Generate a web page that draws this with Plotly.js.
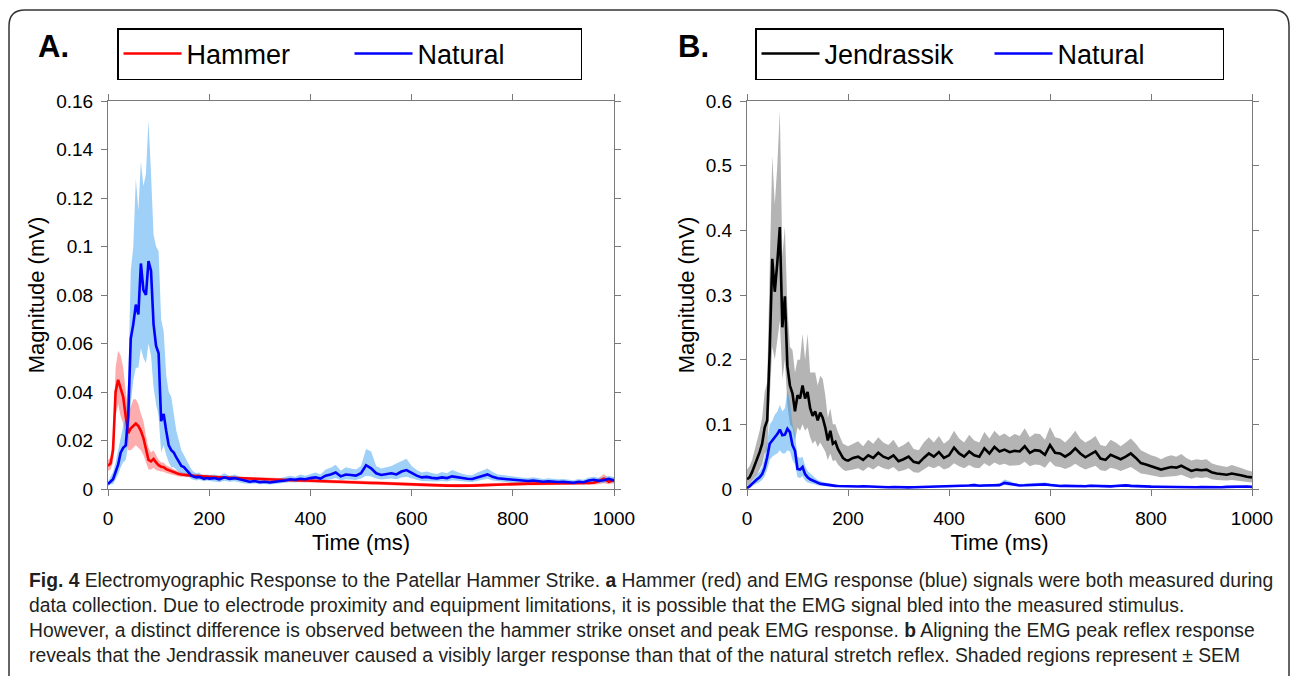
<!DOCTYPE html>
<html>
<head>
<meta charset="utf-8">
<script src="https://cdn.plot.ly/plotly-3.0.1.min.js"></script>
<style>
  html, body { margin: 0; padding: 0; background: #fff; }
  #chart { width: 1295px; height: 676px; }
</style>
</head>
<body>
<div id="chart"></div>
<script>
// ---------- time axis (ms) ----------
const timeEarly = [0,5,10,15,20,25,30,35,40,45,50,55,60,65,70,75,80,85,90,95,100,105,110,115,120,125,130,135,140,145,150,155,160,165,170,175,180,185,190,195,200];
const timeLate = [210,220,230,240,250,260,270,280,290,300,310,320,330,340,350,360,370,380,390,400,410,420,430,440,450,460,470,480,490,500,510,520,530,540,550,560,570,580,590,600,610,620,630,640,650,660,670,680,690,700,710,720,730,740,750,760,770,780,790,800,810,820,830,840,850,860,870,880,890,900,910,920,930,940,950,960,970,980,990,1000];

// ---------- Panel A: Hammer ----------
const hammerMeanEarly = [0.0096,0.0105,0.016,0.04,0.045,0.041,0.038,0.03,0.023,0.025,0.026,0.027,0.026,0.024,0.021,0.016,0.012,0.0114,0.0124,0.011,0.0098,0.0092,0.009,0.0082,0.0078,0.0072,0.0068,0.0065,0.0062,0.006,0.0058,0.0057,0.0056,0.0055,0.0054,0.0053,0.0052,0.0051,0.0051,0.005,0.005];
const hammerMeanLate = [0.0049,0.0048,0.0047,0.0046,0.0045,0.0044,0.0043,0.0042,0.0041,0.004,0.004,0.0039,0.0039,0.0038,0.0038,0.0037,0.0036,0.0035,0.0035,0.0034,0.0033,0.0033,0.0032,0.0031,0.003,0.003,0.0029,0.0028,0.0028,0.0027,0.0026,0.0025,0.0025,0.0024,0.0023,0.0022,0.0021,0.002,0.002,0.0019,0.0018,0.0017,0.0016,0.0016,0.0015,0.0015,0.0014,0.0014,0.0013,0.0013,0.0014,0.0014,0.0015,0.0016,0.0017,0.0018,0.0019,0.002,0.002,0.002,0.0021,0.0021,0.0022,0.0022,0.0022,0.0023,0.0023,0.0023,0.0023,0.0023,0.0024,0.0024,0.0024,0.0025,0.0025,0.0026,0.0032,0.0042,0.003,0.0036];
const hammerUpperEarly = [0.012,0.013,0.022,0.05,0.057,0.055,0.05,0.04,0.031,0.034,0.037,0.037,0.035,0.031,0.028,0.022,0.017,0.015,0.016,0.014,0.012,0.011,0.0108,0.0098,0.0092,0.0085,0.008,0.0076,0.0072,0.0069,0.0067,0.0065,0.0064,0.0063,0.0062,0.006,0.0059,0.0058,0.0058,0.0057,0.0057];
const hammerUpperLate = [0.0056,0.0055,0.0054,0.0053,0.0052,0.0051,0.005,0.0049,0.0048,0.0047,0.0047,0.0046,0.0046,0.0045,0.0045,0.0044,0.0043,0.0042,0.0042,0.0041,0.004,0.004,0.0039,0.0038,0.0037,0.0037,0.0036,0.0035,0.0035,0.0034,0.0033,0.0032,0.0032,0.0031,0.003,0.0029,0.0028,0.0027,0.0027,0.0026,0.0025,0.0024,0.0023,0.0023,0.0022,0.0022,0.0021,0.0021,0.002,0.002,0.0021,0.0021,0.0022,0.0023,0.0024,0.0025,0.0026,0.0027,0.0027,0.0027,0.0028,0.0028,0.0029,0.0029,0.0029,0.003,0.003,0.003,0.003,0.003,0.0031,0.0031,0.0031,0.0032,0.0032,0.0034,0.0045,0.0062,0.0042,0.0048];
const hammerLowerEarly = [0.0075,0.008,0.011,0.03,0.035,0.03,0.027,0.021,0.016,0.016,0.017,0.018,0.017,0.016,0.014,0.011,0.008,0.008,0.0088,0.0078,0.0075,0.0072,0.0071,0.0066,0.0063,0.006,0.0056,0.0054,0.0052,0.0051,0.0049,0.0049,0.0048,0.0047,0.0046,0.0046,0.0045,0.0044,0.0044,0.0043,0.0043];
const hammerLowerLate = [0.0042,0.0041,0.004,0.0039,0.0038,0.0037,0.0036,0.0035,0.0034,0.0033,0.0033,0.0032,0.0032,0.0031,0.0031,0.003,0.0029,0.0028,0.0028,0.0027,0.0026,0.0026,0.0025,0.0024,0.0023,0.0023,0.0022,0.0021,0.0021,0.002,0.0019,0.0018,0.0018,0.0017,0.0016,0.0015,0.0014,0.0013,0.0013,0.0012,0.0011,0.001,0.0009,0.0009,0.0008,0.0008,0.0007,0.0007,0.0006,0.0006,0.0007,0.0007,0.0008,0.0009,0.001,0.0011,0.0012,0.0013,0.0013,0.0013,0.0014,0.0014,0.0015,0.0015,0.0015,0.0016,0.0016,0.0016,0.0016,0.0016,0.0017,0.0017,0.0017,0.0018,0.0018,0.0018,0.002,0.0024,0.002,0.0024];

// ---------- Panel A: Natural ----------
const natAMeanEarly = [0.002,0.003,0.004,0.007,0.01,0.015,0.017,0.018,0.03,0.062,0.068,0.076,0.072,0.093,0.082,0.08,0.094,0.09,0.068,0.059,0.056,0.028,0.031,0.024,0.018,0.016,0.015,0.013,0.011,0.0095,0.009,0.0078,0.007,0.0055,0.005,0.0048,0.005,0.0045,0.0042,0.0045,0.0043];
const natAMeanLate = [0.0045,0.004,0.0048,0.0042,0.0045,0.004,0.0032,0.003,0.0033,0.0028,0.003,0.0027,0.003,0.0032,0.0035,0.004,0.0038,0.0042,0.004,0.0045,0.0048,0.0043,0.0055,0.006,0.0068,0.0052,0.006,0.0058,0.0055,0.0065,0.0098,0.0085,0.0065,0.0058,0.006,0.0065,0.006,0.0072,0.0078,0.0066,0.0055,0.0048,0.005,0.0046,0.0044,0.0048,0.0045,0.0052,0.0048,0.0045,0.0042,0.0041,0.0048,0.0055,0.006,0.005,0.0044,0.0042,0.004,0.0037,0.0036,0.0034,0.0033,0.0035,0.0033,0.003,0.0032,0.003,0.0029,0.003,0.0027,0.0026,0.003,0.0028,0.0035,0.0038,0.0034,0.0036,0.0042,0.0035];
const natAUpperEarly = [0.003,0.005,0.007,0.011,0.016,0.022,0.026,0.03,0.045,0.09,0.1,0.128,0.115,0.135,0.125,0.13,0.152,0.13,0.105,0.1,0.098,0.07,0.065,0.047,0.04,0.038,0.03,0.024,0.02,0.016,0.014,0.012,0.01,0.008,0.007,0.0065,0.0068,0.006,0.0058,0.006,0.0058];
const natAUpperLate = [0.006,0.0055,0.0065,0.0055,0.006,0.0052,0.0042,0.004,0.0043,0.0036,0.004,0.0035,0.004,0.0043,0.0048,0.0055,0.005,0.006,0.0055,0.0062,0.0068,0.006,0.008,0.0088,0.01,0.0075,0.009,0.0085,0.008,0.0095,0.0165,0.0155,0.0095,0.0085,0.009,0.0095,0.0105,0.0115,0.0125,0.0095,0.0078,0.0068,0.0072,0.0066,0.0062,0.007,0.0065,0.0078,0.007,0.0063,0.0058,0.0057,0.0068,0.0078,0.0085,0.007,0.006,0.0058,0.0055,0.005,0.0049,0.0046,0.0045,0.0048,0.0045,0.0041,0.0044,0.0041,0.004,0.0041,0.0037,0.0036,0.0041,0.0038,0.0047,0.005,0.0046,0.0048,0.0055,0.0048];
const natALowerEarly = [0.001,0.002,0.002,0.004,0.006,0.009,0.011,0.012,0.018,0.035,0.045,0.05,0.05,0.058,0.054,0.052,0.06,0.055,0.042,0.035,0.03,0.015,0.018,0.014,0.011,0.009,0.009,0.008,0.007,0.006,0.006,0.005,0.005,0.004,0.0038,0.0035,0.0038,0.0035,0.0032,0.0035,0.0033];
const natALowerLate = [0.0032,0.0028,0.0034,0.003,0.0032,0.0028,0.0023,0.0021,0.0023,0.002,0.0021,0.0019,0.0021,0.0023,0.0025,0.0028,0.0027,0.003,0.0028,0.0031,0.0033,0.003,0.0037,0.004,0.0045,0.0036,0.004,0.0039,0.0037,0.0043,0.0055,0.0052,0.0043,0.0039,0.004,0.0043,0.004,0.0047,0.005,0.0044,0.0038,0.0033,0.0035,0.0032,0.0031,0.0033,0.0031,0.0036,0.0033,0.0031,0.003,0.0029,0.0033,0.0038,0.0042,0.0035,0.0031,0.003,0.0028,0.0026,0.0026,0.0024,0.0024,0.0025,0.0024,0.0022,0.0023,0.0022,0.0021,0.0022,0.002,0.0019,0.0022,0.002,0.0025,0.0027,0.0024,0.0026,0.003,0.0025];

// ---------- Panel B: Jendrassik ----------
const jendMeanEarly = [0.015,0.018,0.026,0.036,0.044,0.057,0.07,0.095,0.106,0.214,0.356,0.305,0.35,0.405,0.25,0.298,0.19,0.16,0.148,0.12,0.145,0.14,0.16,0.14,0.15,0.125,0.113,0.12,0.106,0.118,0.11,0.095,0.075,0.09,0.07,0.073,0.062,0.055,0.048,0.045,0.044];
const jendMeanLate = [0.048,0.05,0.045,0.052,0.048,0.056,0.05,0.047,0.052,0.043,0.046,0.05,0.042,0.04,0.048,0.055,0.05,0.057,0.048,0.052,0.064,0.055,0.05,0.058,0.052,0.05,0.063,0.055,0.065,0.058,0.061,0.057,0.059,0.058,0.066,0.056,0.06,0.059,0.053,0.068,0.056,0.055,0.05,0.055,0.063,0.055,0.049,0.053,0.058,0.047,0.045,0.053,0.05,0.046,0.05,0.055,0.048,0.04,0.038,0.035,0.033,0.03,0.032,0.034,0.033,0.036,0.032,0.028,0.03,0.029,0.03,0.026,0.024,0.023,0.022,0.024,0.023,0.021,0.019,0.018];
const jendUpperEarly = [0.03,0.035,0.045,0.06,0.075,0.09,0.11,0.15,0.165,0.33,0.515,0.44,0.5,0.585,0.36,0.405,0.28,0.22,0.215,0.18,0.2,0.2,0.24,0.2,0.24,0.18,0.18,0.18,0.16,0.175,0.17,0.145,0.11,0.125,0.1,0.1,0.088,0.078,0.07,0.068,0.066];
const jendUpperLate = [0.07,0.074,0.066,0.076,0.07,0.08,0.072,0.068,0.076,0.064,0.068,0.074,0.062,0.06,0.072,0.08,0.072,0.082,0.07,0.076,0.09,0.078,0.072,0.084,0.075,0.072,0.088,0.078,0.09,0.082,0.086,0.08,0.085,0.082,0.094,0.08,0.086,0.085,0.076,0.096,0.08,0.078,0.072,0.08,0.09,0.078,0.072,0.076,0.082,0.068,0.066,0.076,0.072,0.066,0.072,0.078,0.07,0.06,0.056,0.052,0.05,0.046,0.05,0.052,0.05,0.054,0.048,0.044,0.046,0.045,0.046,0.04,0.037,0.036,0.034,0.037,0.035,0.032,0.029,0.027];
const jendLowerEarly = [0.005,0.007,0.012,0.018,0.022,0.03,0.038,0.055,0.06,0.13,0.22,0.2,0.23,0.26,0.17,0.2,0.13,0.1,0.095,0.075,0.095,0.09,0.1,0.09,0.095,0.08,0.07,0.075,0.065,0.072,0.065,0.058,0.045,0.055,0.043,0.045,0.038,0.034,0.03,0.028,0.028];
const jendLowerLate = [0.03,0.032,0.028,0.034,0.03,0.036,0.032,0.03,0.034,0.027,0.029,0.032,0.026,0.025,0.03,0.035,0.032,0.036,0.03,0.033,0.04,0.035,0.032,0.037,0.033,0.032,0.04,0.035,0.041,0.037,0.039,0.036,0.037,0.037,0.042,0.035,0.038,0.037,0.033,0.043,0.035,0.034,0.031,0.034,0.039,0.034,0.03,0.033,0.036,0.029,0.028,0.033,0.031,0.028,0.031,0.034,0.029,0.024,0.023,0.021,0.02,0.018,0.019,0.02,0.02,0.022,0.019,0.016,0.018,0.017,0.018,0.015,0.014,0.013,0.013,0.014,0.013,0.012,0.011,0.01];

// ---------- Panel B: Natural ----------
const natBMeanEarly = [0.0015,0.004,0.008,0.012,0.015,0.018,0.023,0.033,0.049,0.07,0.075,0.08,0.085,0.092,0.083,0.084,0.093,0.088,0.068,0.059,0.031,0.03,0.034,0.023,0.018,0.015,0.013,0.011,0.009,0.008,0.0075,0.0068,0.006,0.0055,0.005,0.0048,0.0046,0.0044,0.0042,0.004,0.004];
const natBMeanLate = [0.004,0.0038,0.0042,0.0038,0.004,0.0036,0.003,0.0028,0.003,0.0026,0.0028,0.0025,0.0028,0.003,0.0033,0.0036,0.0035,0.0038,0.0037,0.004,0.0045,0.004,0.005,0.0055,0.006,0.005,0.0055,0.0054,0.0052,0.006,0.0095,0.008,0.006,0.0055,0.0057,0.006,0.0058,0.0068,0.0072,0.0062,0.0052,0.0046,0.0048,0.0044,0.0042,0.0046,0.0043,0.005,0.0046,0.0043,0.004,0.004,0.0046,0.0052,0.0056,0.0048,0.0042,0.004,0.0038,0.0036,0.0035,0.0033,0.0032,0.0034,0.0032,0.003,0.0031,0.0029,0.0028,0.0029,0.0027,0.0026,0.0029,0.0027,0.0033,0.0036,0.0033,0.0034,0.0038,0.0033];
const natBUpperEarly = [0.003,0.007,0.012,0.018,0.022,0.027,0.034,0.05,0.072,0.1,0.105,0.115,0.12,0.13,0.12,0.125,0.152,0.135,0.1,0.085,0.05,0.048,0.05,0.036,0.028,0.024,0.02,0.017,0.014,0.012,0.011,0.01,0.009,0.008,0.0072,0.0068,0.0065,0.0062,0.006,0.0057,0.0057];
const natBUpperLate = [0.0055,0.0052,0.0058,0.0052,0.0055,0.005,0.0042,0.004,0.0042,0.0036,0.0039,0.0035,0.0039,0.0042,0.0046,0.005,0.0049,0.0053,0.0052,0.0056,0.0063,0.0056,0.007,0.0077,0.0085,0.007,0.0078,0.0076,0.0073,0.0085,0.0145,0.0125,0.0085,0.0077,0.008,0.0085,0.0082,0.0095,0.01,0.0087,0.0073,0.0064,0.0067,0.0062,0.0059,0.0064,0.006,0.007,0.0064,0.006,0.0056,0.0056,0.0064,0.0073,0.0078,0.0067,0.0059,0.0056,0.0053,0.005,0.0049,0.0046,0.0045,0.0048,0.0045,0.0042,0.0043,0.0041,0.0039,0.0041,0.0038,0.0036,0.0041,0.0038,0.0046,0.005,0.0046,0.0048,0.0053,0.0046];
const natBLowerEarly = [0.0005,0.002,0.004,0.007,0.009,0.011,0.014,0.02,0.03,0.045,0.05,0.053,0.055,0.06,0.055,0.055,0.06,0.058,0.045,0.038,0.018,0.017,0.02,0.013,0.01,0.009,0.008,0.007,0.0055,0.005,0.0047,0.0043,0.0038,0.0035,0.0032,0.003,0.0029,0.0028,0.0027,0.0025,0.0025];
const natBLowerLate = [0.0028,0.0027,0.003,0.0027,0.0028,0.0025,0.0021,0.002,0.0021,0.0018,0.002,0.0018,0.002,0.0021,0.0023,0.0025,0.0025,0.0027,0.0026,0.0028,0.0032,0.0028,0.0035,0.0038,0.0042,0.0035,0.0039,0.0038,0.0036,0.0042,0.006,0.0052,0.0042,0.0038,0.004,0.0042,0.0041,0.0047,0.005,0.0043,0.0036,0.0032,0.0034,0.0031,0.003,0.0032,0.003,0.0035,0.0032,0.003,0.0028,0.0028,0.0032,0.0036,0.0039,0.0034,0.003,0.0028,0.0027,0.0025,0.0025,0.0023,0.0022,0.0024,0.0022,0.0021,0.0022,0.002,0.002,0.002,0.0019,0.0018,0.002,0.0019,0.0023,0.0025,0.0023,0.0024,0.0027,0.0023];

const xTicks = [0, 200, 400, 600, 800, 1000];
const yTicksA = [0, 0.02, 0.04, 0.06, 0.08, 0.1, 0.12, 0.14, 0.16];
const yTicksB = [0, 0.1, 0.2, 0.3, 0.4, 0.5, 0.6];

const captionLines = [
  '<b>Fig. 4</b> Electromyographic Response to the Patellar Hammer Strike. <b>a</b> Hammer (red) and EMG response (blue) signals were both measured during',
  'data collection. Due to electrode proximity and equipment limitations, it is possible that the EMG signal bled into the measured stimulus.',
  'However, a distinct difference is observed between the hammer strike onset and peak EMG response. <b>b</b> Aligning the EMG peak reflex response',
  'reveals that the Jendrassik maneuver caused a visibly larger response than that of the natural stretch reflex. Shaded regions represent ± SEM'
];

// ---------- build traces ----------
const time = timeEarly.concat(timeLate);
function band(upper, lower, xa, ya, color) {
  return {
    x: time.concat(time.slice().reverse()),
    y: upper.concat(lower.slice().reverse()),
    xaxis: xa, yaxis: ya, type: 'scatter', mode: 'lines',
    fill: 'toself', fillcolor: color, line: {width: 0, color: 'rgba(0,0,0,0)'},
    hoverinfo: 'skip', showlegend: false
  };
}
function meanLine(y, xa, ya, color, name, legend) {
  return {x: time, y: y, xaxis: xa, yaxis: ya, type: 'scatter', mode: 'lines',
    line: {color: color, width: 2.6}, name: name, legend: legend};
}

const traces = [
  band(hammerUpperEarly.concat(hammerUpperLate), hammerLowerEarly.concat(hammerLowerLate), 'x', 'y', 'rgba(250,60,60,0.42)'),
  band(natAUpperEarly.concat(natAUpperLate), natALowerEarly.concat(natALowerLate), 'x', 'y', 'rgba(40,150,240,0.45)'),
  meanLine(hammerMeanEarly.concat(hammerMeanLate), 'x', 'y', '#ff0000', 'Hammer', 'legend'),
  meanLine(natAMeanEarly.concat(natAMeanLate), 'x', 'y', '#0000ff', 'Natural', 'legend'),
  band(jendUpperEarly.concat(jendUpperLate), jendLowerEarly.concat(jendLowerLate), 'x2', 'y2', 'rgba(140,140,140,0.65)'),
  band(natBUpperEarly.concat(natBUpperLate), natBLowerEarly.concat(natBLowerLate), 'x2', 'y2', 'rgba(40,150,240,0.45)'),
  meanLine(jendMeanEarly.concat(jendMeanLate), 'x2', 'y2', '#000000', 'Jendrassik', 'legend2'),
  meanLine(natBMeanEarly.concat(natBMeanLate), 'x2', 'y2', '#0000ff', 'Natural', 'legend2')
];

const W = 1295, H = 676;
const px = v => v / W;
const py = v => 1 - v / H;
const FONT = 'Liberation Sans, Arial, Helvetica, sans-serif';
const axisCol = '#7a7a7a';

function xAxis(domain, anchor) {
  return {
    domain: domain, anchor: anchor, range: [0, 1000], tickvals: xTicks,
    ticks: 'outside', ticklen: 6, tickwidth: 1, tickcolor: axisCol,
    showline: true, linecolor: axisCol, linewidth: 1, mirror: 'ticks',
    showgrid: false, zeroline: false, ticklabelstandoff: 6,
    tickfont: {family: FONT, size: 19, color: '#000'},
    title: {text: 'Time (ms)', font: {family: FONT, size: 22, color: '#000'}, standoff: 6}
  };
}
function yAxis(domain, anchor, range, ticks) {
  return {
    domain: domain, anchor: anchor, range: range, tickvals: ticks,
    ticks: 'outside', ticklen: 6, tickwidth: 1, tickcolor: axisCol,
    showline: true, linecolor: axisCol, linewidth: 1, mirror: 'ticks',
    showgrid: false, zeroline: false, ticklabelstandoff: 4,
    tickfont: {family: FONT, size: 19, color: '#000'},
    title: {text: 'Magnitude (mV)', font: {family: FONT, size: 22, color: '#000'}, standoff: 5}
  };
}

const yDom = [py(489), py(101)];
const legendBase = {
  y: py(28), xanchor: 'left', yanchor: 'top', orientation: 'h',
  bordercolor: '#000', borderwidth: 1.5, bgcolor: '#fff',
  font: {family: FONT, size: 27, color: '#000'}, itemwidth: 58, tracegroupgap: 0
};
const layout = {
  width: W, height: H,
  margin: {l: 0, r: 0, t: 0, b: 0},
  paper_bgcolor: '#fff', plot_bgcolor: 'rgba(0,0,0,0)',
  font: {family: FONT, color: '#000'},
  xaxis: xAxis([px(108), px(614)], 'y'),
  yaxis: yAxis(yDom, 'x', [0, 0.16], yTicksA),
  xaxis2: xAxis([px(747), px(1252)], 'y2'),
  yaxis2: yAxis(yDom, 'x2', [0, 0.6], yTicksB),
  legend: Object.assign({}, legendBase, {x: px(117), entrywidth: 158}),
  legend2: Object.assign({}, legendBase, {x: px(755), entrywidth: 160}),
  shapes: [{
    type: 'path', xref: 'paper', yref: 'paper',
    path: 'M ' + px(9) + ' ' + py(700) + ' L ' + px(9) + ' ' + py(26) +
          ' Q ' + px(9) + ' ' + py(10) + ' ' + px(25) + ' ' + py(10) +
          ' L ' + px(1273) + ' ' + py(10) +
          ' Q ' + px(1289) + ' ' + py(10) + ' ' + px(1289) + ' ' + py(26) +
          ' L ' + px(1289) + ' ' + py(700),
    line: {color: '#333', width: 1.5}, fillcolor: 'rgba(0,0,0,0)'
  }],
  annotations: [
    {text: '<b>A.</b>', xref: 'paper', yref: 'paper', x: px(36), y: py(47), xanchor: 'left', yanchor: 'middle',
     showarrow: false, font: {family: FONT, size: 31, color: '#000'}},
    {text: '<b>B.</b>', xref: 'paper', yref: 'paper', x: px(676), y: py(47), xanchor: 'left', yanchor: 'middle',
     showarrow: false, font: {family: FONT, size: 31, color: '#000'}}
  ].concat(captionLines.map((t, i) => ({
    text: t, xref: 'paper', yref: 'paper', x: px(27), y: py(580 + i * 25), xanchor: 'left', yanchor: 'middle',
    showarrow: false, align: 'left',
    font: {family: 'Liberation Sans Narrow, Arial Narrow, Liberation Sans, sans-serif', size: 19.3, color: '#231f20'}
  })))
};

Plotly.newPlot('chart', traces, layout, {staticPlot: true, displayModeBar: false});
</script>
</body>
</html>
